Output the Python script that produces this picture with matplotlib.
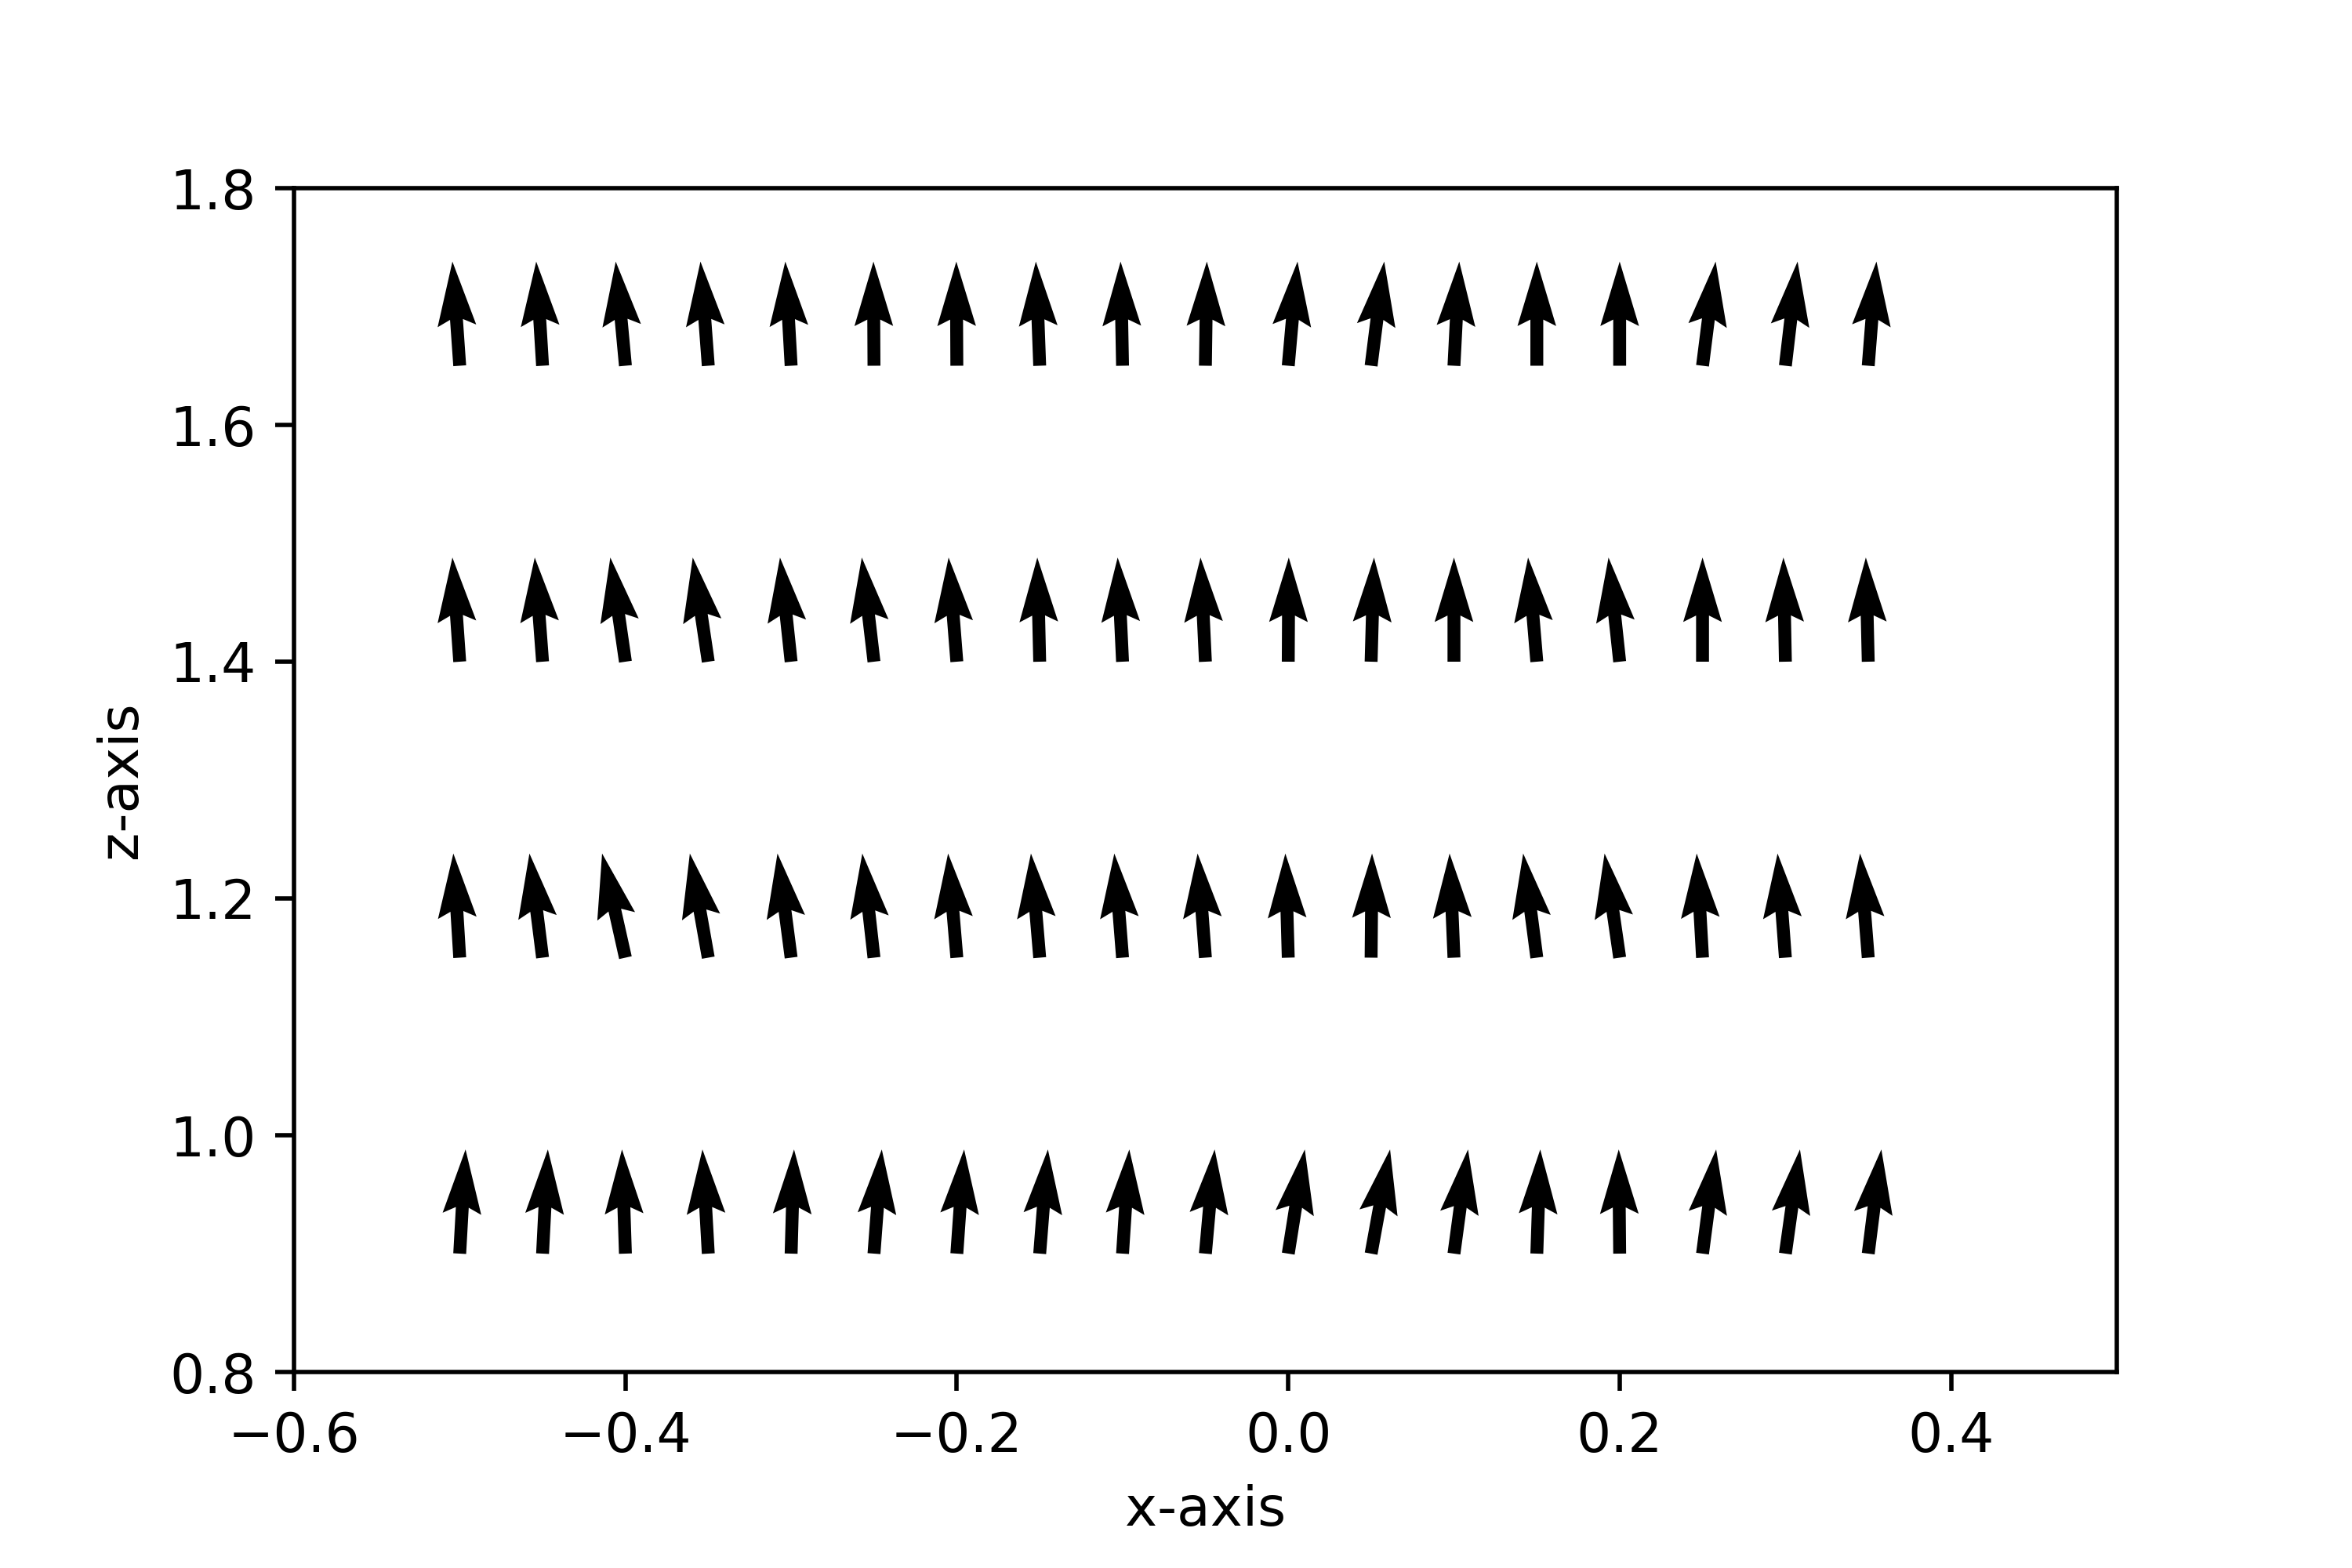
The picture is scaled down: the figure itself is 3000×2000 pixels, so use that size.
import numpy as np
import matplotlib
matplotlib.use("Agg")
import matplotlib.pyplot as plt

x_positions = [-0.50, -0.45, -0.40, -0.35, -0.30, -0.25, -0.20, -0.15, -0.10,
               -0.05, 0.00, 0.05, 0.10, 0.15, 0.20, 0.25, 0.30, 0.35]
z_positions = [0.90, 1.15, 1.40, 1.65]

# horizontal components (tilt) per row, vertical component ~1
u_z090 = [0.056, 0.051, -0.033, -0.056, 0.028, 0.075, 0.070, 0.079, 0.065,
          0.089, 0.159, 0.182, 0.135, 0.033, -0.009, 0.131, 0.140, 0.126]
u_z115 = [-0.061, -0.126, -0.224, -0.177, -0.131, -0.112, -0.084, -0.084, -0.079,
          -0.075, -0.028, 0.009, -0.042, -0.131, -0.145, -0.056, -0.075, -0.079]
u_z140 = [-0.070, -0.075, -0.145, -0.149, -0.107, -0.117, -0.079, -0.023, -0.047,
          -0.047, 0.005, 0.028, 0.000, -0.084, -0.107, 0.000, -0.019, -0.023]
u_z165 = [-0.070, -0.061, -0.093, -0.075, -0.056, -0.005, -0.005, -0.037, -0.019,
          0.014, 0.089, 0.126, 0.051, 0.000, 0.000, 0.126, 0.117, 0.079]
w_rows = [1.0, 1.0, 1.0, 1.0]

U_rows = [u_z090, u_z115, u_z140, u_z165]

X, Z = np.meshgrid(np.array(x_positions), np.array(z_positions))
U = np.array(U_rows)
W = np.array(w_rows)[:, None] * np.ones_like(U)

fig = plt.figure(figsize=(6, 4), dpi=500)
ax = fig.add_subplot(111)
fig.subplots_adjust(left=0.125, right=0.9, bottom=0.125, top=0.88)
ax.quiver(X, Z, U, W, scale=17.5, scale_units='width', color='black')
ax.set_xlim(-0.6, 0.5)
ax.set_ylim(0.8, 1.8)
ax.set_xticks([-0.6, -0.4, -0.2, 0.0, 0.2, 0.4])
ax.set_yticks([0.8, 1.0, 1.2, 1.4, 1.6, 1.8])
ax.set_xlabel("x-axis")
ax.set_ylabel("z-axis")
fig.savefig("out.png", dpi=500)
